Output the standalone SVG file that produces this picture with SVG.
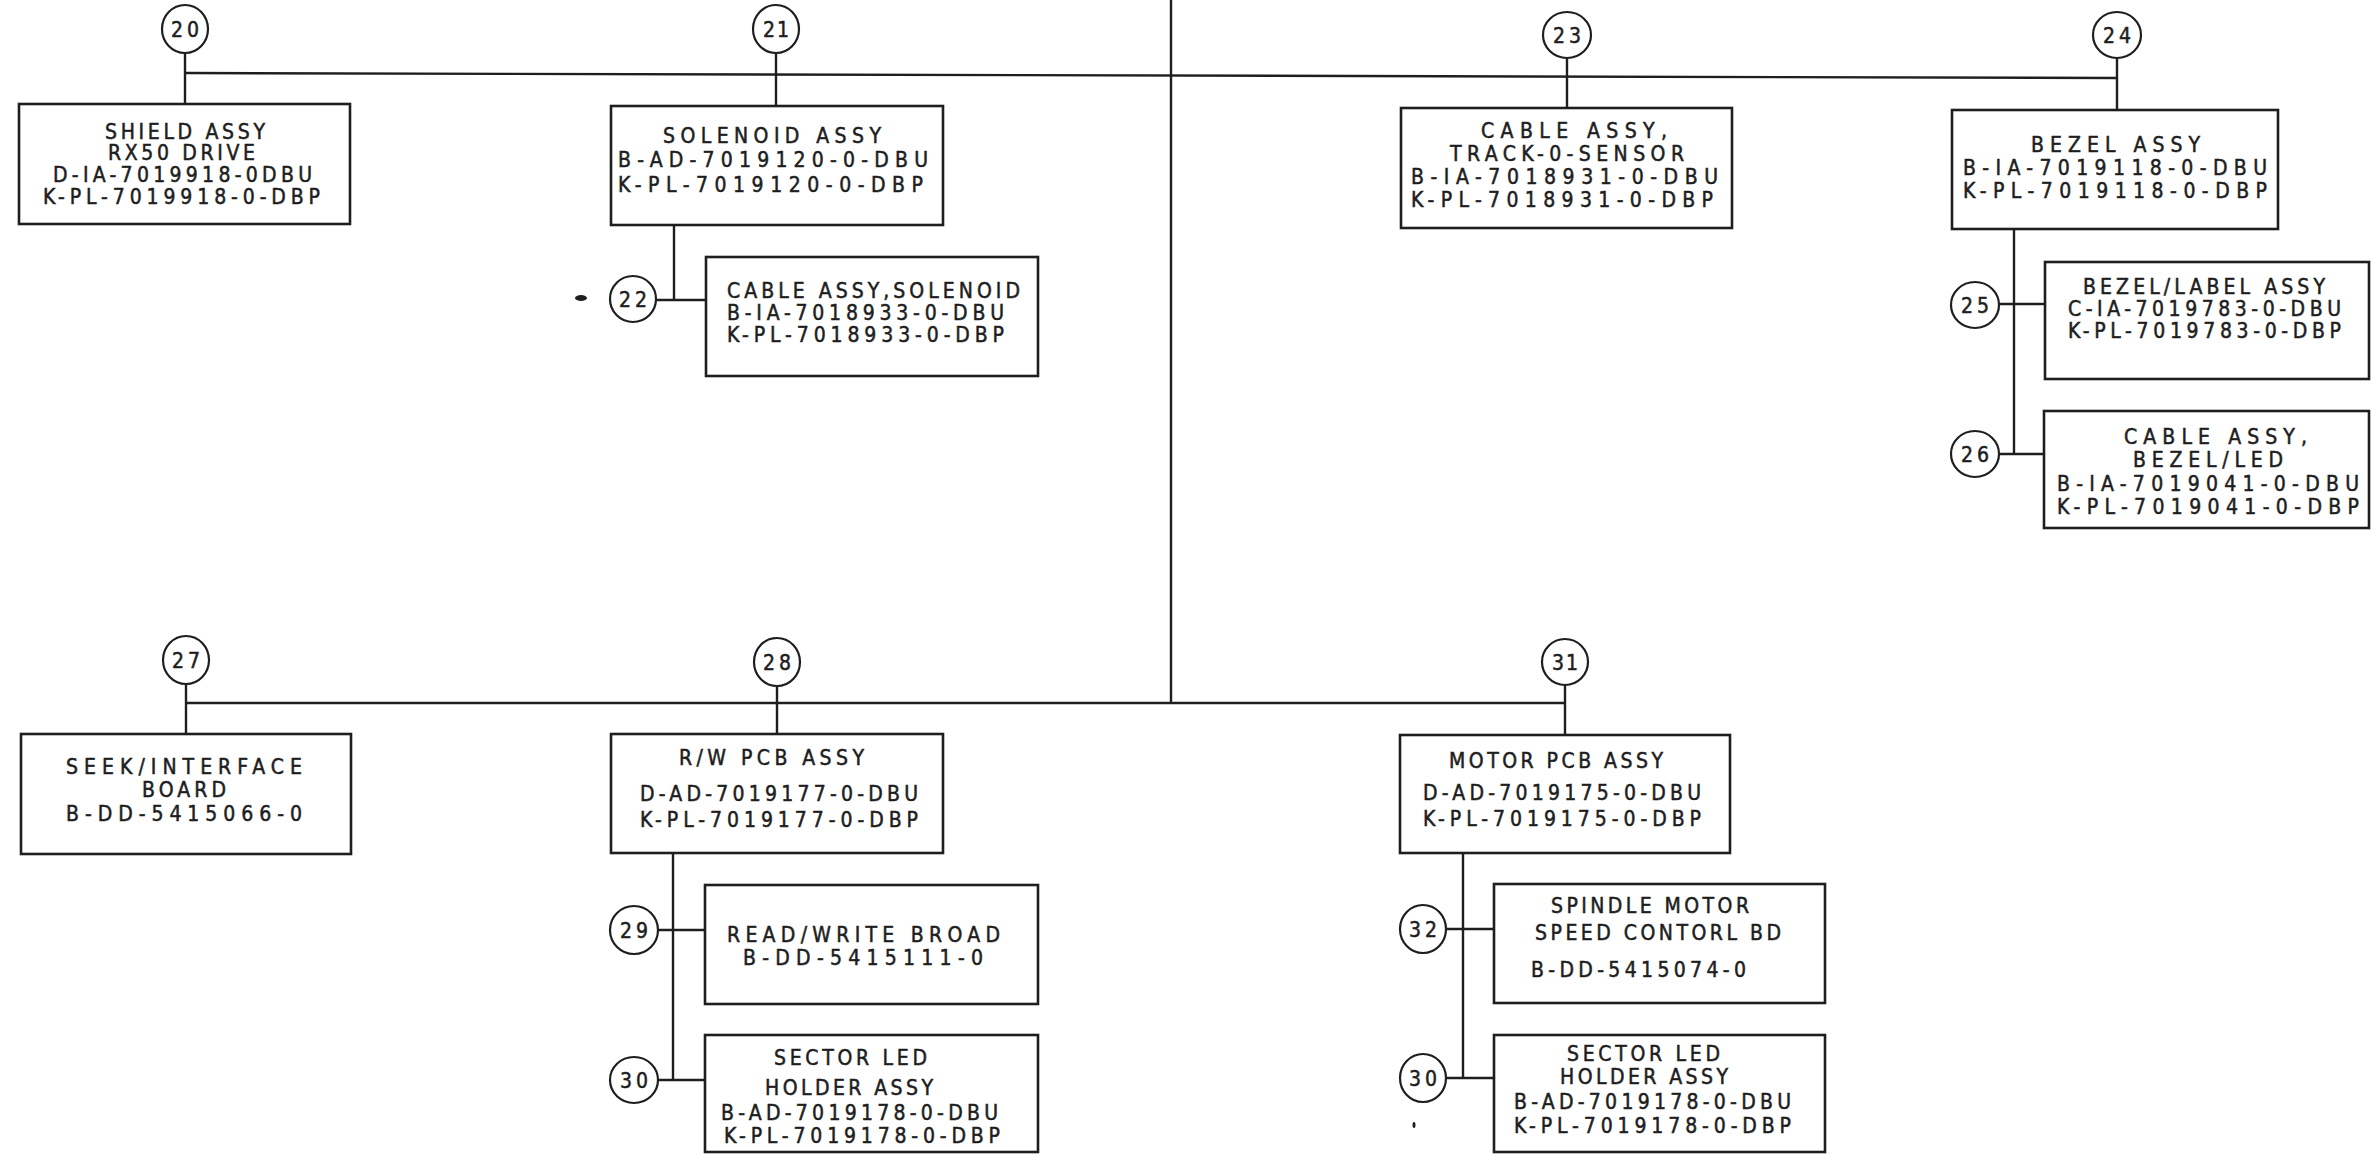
<svg xmlns="http://www.w3.org/2000/svg" width="2371" height="1154" viewBox="0 0 2371 1154">
<style>
.bg{fill:#ffffff}
.box{fill:none;stroke:#1e1e1e;stroke-width:2.6}
.bal{fill:none;stroke:#1e1e1e;stroke-width:2.2}
.ln{fill:none;stroke:#1e1e1e;stroke-width:2.4}
text{font-family:"Liberation Sans Narrow","DejaVu Sans Condensed","Liberation Sans",sans-serif;font-size:21px;fill:#1e1e1e;stroke:#1e1e1e;stroke-width:0.5}
.n{text-anchor:middle;font-size:21px}
.mk{fill:#1e1e1e}
</style>
<rect class="bg" x="0" y="0" width="2371" height="1154"/>

<g id="connectors">
  <line class="ln" x1="185" y1="73" x2="2117" y2="78"/>
  <line class="ln" x1="1171" y1="0" x2="1171" y2="703"/>
  <line class="ln" x1="186" y1="703" x2="1565" y2="703"/>
  <line class="ln" x1="185" y1="53" x2="185" y2="104"/>
  <line class="ln" x1="776" y1="53" x2="776" y2="106"/>
  <line class="ln" x1="1567" y1="58" x2="1567" y2="108"/>
  <line class="ln" x1="2117" y1="58" x2="2117" y2="110"/>
  <polyline class="ln" points="674,225 674,300"/>
  <line class="ln" x1="656" y1="300" x2="706" y2="300"/>
  <polyline class="ln" points="2014,229 2014,454"/>
  <line class="ln" x1="1999" y1="304" x2="2045" y2="304"/>
  <line class="ln" x1="1999" y1="454" x2="2044" y2="454"/>
  <line class="ln" x1="186" y1="684" x2="186" y2="734"/>
  <line class="ln" x1="777" y1="686" x2="777" y2="734"/>
  <line class="ln" x1="1565" y1="685" x2="1565" y2="735"/>
  <line class="ln" x1="673" y1="853" x2="673" y2="1080"/>
  <line class="ln" x1="658" y1="930" x2="705" y2="930"/>
  <line class="ln" x1="658" y1="1080" x2="705" y2="1080"/>
  <line class="ln" x1="1463" y1="853" x2="1463" y2="1078"/>
  <line class="ln" x1="1446" y1="929" x2="1494" y2="929"/>
  <line class="ln" x1="1446" y1="1078" x2="1494" y2="1078"/>
</g>

<g id="n20"><ellipse class="bal" cx="185" cy="29" rx="23" ry="24"/><text class="n" x="185" y="37" textLength="28" lengthAdjust="spacing">20</text></g>
<g id="n21"><ellipse class="bal" cx="776" cy="29" rx="23" ry="24"/><text class="n" x="776" y="37" textLength="26" lengthAdjust="spacing">21</text></g>
<g id="n22"><ellipse class="bal" cx="633" cy="299" rx="23" ry="23"/><text class="n" x="633" y="307" textLength="28" lengthAdjust="spacing">22</text></g>
<g id="n23"><ellipse class="bal" cx="1567" cy="35" rx="24" ry="23"/><text class="n" x="1567" y="43" textLength="28" lengthAdjust="spacing">23</text></g>
<g id="n24"><ellipse class="bal" cx="2117" cy="35" rx="24" ry="23"/><text class="n" x="2117" y="43" textLength="28" lengthAdjust="spacing">24</text></g>
<g id="n25"><ellipse class="bal" cx="1975" cy="305" rx="24" ry="23"/><text class="n" x="1975" y="313" textLength="28" lengthAdjust="spacing">25</text></g>
<g id="n26"><ellipse class="bal" cx="1975" cy="454" rx="24" ry="23"/><text class="n" x="1975" y="462" textLength="28" lengthAdjust="spacing">26</text></g>
<g id="n27"><ellipse class="bal" cx="186" cy="660" rx="23" ry="24"/><text class="n" x="186" y="668" textLength="28" lengthAdjust="spacing">27</text></g>
<g id="n28"><ellipse class="bal" cx="777" cy="662" rx="23" ry="24"/><text class="n" x="777" y="670" textLength="28" lengthAdjust="spacing">28</text></g>
<g id="n29"><ellipse class="bal" cx="634" cy="930" rx="24" ry="24"/><text class="n" x="634" y="938" textLength="28" lengthAdjust="spacing">29</text></g>
<g id="n30a"><ellipse class="bal" cx="634" cy="1080" rx="24" ry="23"/><text class="n" x="634" y="1088" textLength="28" lengthAdjust="spacing">30</text></g>
<g id="n31"><ellipse class="bal" cx="1565" cy="662" rx="23" ry="23"/><text class="n" x="1565" y="670" textLength="26" lengthAdjust="spacing">31</text></g>
<g id="n32"><ellipse class="bal" cx="1423" cy="929" rx="23" ry="24"/><text class="n" x="1423" y="937" textLength="28" lengthAdjust="spacing">32</text></g>
<g id="n30b"><ellipse class="bal" cx="1423" cy="1078" rx="23" ry="24"/><text class="n" x="1423" y="1086" textLength="28" lengthAdjust="spacing">30</text></g>

<g id="shield">
  <rect class="box" x="19" y="104" width="331" height="120"/>
  <text x="105" y="139" textLength="160" lengthAdjust="spacing">SHIELD ASSY</text>
  <text x="108" y="160" textLength="147" lengthAdjust="spacing">RX50 DRIVE</text>
  <text x="53" y="182" textLength="259" lengthAdjust="spacing">D-IA-7019918-0DBU</text>
  <text x="43" y="204" textLength="277" lengthAdjust="spacing">K-PL-7019918-0-DBP</text>
</g>
<g id="solenoid">
  <rect class="box" x="611" y="106" width="332" height="119"/>
  <text x="663" y="143" textLength="218" lengthAdjust="spacing">SOLENOID ASSY</text>
  <text x="618" y="167" textLength="310" lengthAdjust="spacing">B-AD-7019120-0-DBU</text>
  <text x="618" y="192" textLength="305" lengthAdjust="spacing">K-PL-7019120-0-DBP</text>
</g>
<g id="cable-solenoid">
  <rect class="box" x="706" y="257" width="332" height="119"/>
  <text x="727" y="298" textLength="293" lengthAdjust="spacing">CABLE ASSY,SOLENOID</text>
  <text x="727" y="320" textLength="277" lengthAdjust="spacing">B-IA-7018933-0-DBU</text>
  <text x="727" y="342" textLength="277" lengthAdjust="spacing">K-PL-7018933-0-DBP</text>
  <ellipse class="mk" cx="581" cy="298" rx="6" ry="3"/>
</g>
<g id="cable-track">
  <rect class="box" x="1401" y="108" width="331" height="120"/>
  <text x="1481" y="138" textLength="186" lengthAdjust="spacing">CABLE ASSY,</text>
  <text x="1450" y="161" textLength="234" lengthAdjust="spacing">TRACK-0-SENSOR</text>
  <text x="1411" y="184" textLength="307" lengthAdjust="spacing">B-IA-7018931-0-DBU</text>
  <text x="1411" y="207" textLength="302" lengthAdjust="spacing">K-PL-7018931-0-DBP</text>
</g>
<g id="bezel">
  <rect class="box" x="1952" y="110" width="326" height="119"/>
  <text x="2031" y="152" textLength="169" lengthAdjust="spacing">BEZEL ASSY</text>
  <text x="1963" y="175" textLength="304" lengthAdjust="spacing">B-IA-7019118-0-DBU</text>
  <text x="1963" y="198" textLength="304" lengthAdjust="spacing">K-PL-7019118-0-DBP</text>
</g>
<g id="bezel-label">
  <rect class="box" x="2045" y="262" width="324" height="117"/>
  <text x="2083" y="294" textLength="242" lengthAdjust="spacing">BEZEL/LABEL ASSY</text>
  <text x="2068" y="316" textLength="273" lengthAdjust="spacing">C-IA-7019783-0-DBU</text>
  <text x="2068" y="338" textLength="273" lengthAdjust="spacing">K-PL-7019783-0-DBP</text>
</g>
<g id="cable-bezel-led">
  <rect class="box" x="2044" y="411" width="325" height="117"/>
  <text x="2124" y="444" textLength="183" lengthAdjust="spacing">CABLE ASSY,</text>
  <text x="2133" y="467" textLength="150" lengthAdjust="spacing">BEZEL/LED</text>
  <text x="2057" y="491" textLength="302" lengthAdjust="spacing">B-IA-7019041-0-DBU</text>
  <text x="2057" y="514" textLength="302" lengthAdjust="spacing">K-PL-7019041-0-DBP</text>
</g>
<g id="seek">
  <rect class="box" x="21" y="734" width="330" height="120"/>
  <text x="66" y="774" textLength="236" lengthAdjust="spacing">SEEK/INTERFACE</text>
  <text x="142" y="797" textLength="84" lengthAdjust="spacing">BOARD</text>
  <text x="66" y="821" textLength="236" lengthAdjust="spacing">B-DD-5415066-0</text>
</g>
<g id="rw-pcb">
  <rect class="box" x="611" y="734" width="332" height="119"/>
  <text x="679" y="765" textLength="185" lengthAdjust="spacing">R/W PCB ASSY</text>
  <text x="640" y="801" textLength="278" lengthAdjust="spacing">D-AD-7019177-0-DBU</text>
  <text x="640" y="827" textLength="278" lengthAdjust="spacing">K-PL-7019177-0-DBP</text>
</g>
<g id="read-write">
  <rect class="box" x="705" y="885" width="333" height="119"/>
  <text x="727" y="942" textLength="273" lengthAdjust="spacing">READ/WRITE BROAD</text>
  <text x="743" y="965" textLength="240" lengthAdjust="spacing">B-DD-5415111-0</text>
</g>
<g id="sector-led-a">
  <rect class="box" x="705" y="1035" width="333" height="117"/>
  <text x="774" y="1065" textLength="153" lengthAdjust="spacing">SECTOR LED</text>
  <text x="765" y="1095" textLength="168" lengthAdjust="spacing">HOLDER ASSY</text>
  <text x="721" y="1120" textLength="277" lengthAdjust="spacing">B-AD-7019178-0-DBU</text>
  <text x="724" y="1143" textLength="276" lengthAdjust="spacing">K-PL-7019178-0-DBP</text>
</g>
<g id="motor-pcb">
  <rect class="box" x="1400" y="735" width="330" height="118"/>
  <text x="1449" y="768" textLength="214" lengthAdjust="spacing">MOTOR PCB ASSY</text>
  <text x="1423" y="800" textLength="278" lengthAdjust="spacing">D-AD-7019175-0-DBU</text>
  <text x="1423" y="826" textLength="278" lengthAdjust="spacing">K-PL-7019175-0-DBP</text>
</g>
<g id="spindle">
  <rect class="box" x="1494" y="884" width="331" height="119"/>
  <text x="1551" y="913" textLength="198" lengthAdjust="spacing">SPINDLE MOTOR</text>
  <text x="1535" y="940" textLength="246" lengthAdjust="spacing">SPEED CONTORL BD</text>
  <text x="1531" y="977" textLength="215" lengthAdjust="spacing">B-DD-5415074-0</text>
</g>
<g id="sector-led-b">
  <rect class="box" x="1494" y="1035" width="331" height="117"/>
  <text x="1567" y="1061" textLength="153" lengthAdjust="spacing">SECTOR LED</text>
  <text x="1560" y="1084" textLength="168" lengthAdjust="spacing">HOLDER ASSY</text>
  <text x="1514" y="1109" textLength="277" lengthAdjust="spacing">B-AD-7019178-0-DBU</text>
  <text x="1514" y="1133" textLength="277" lengthAdjust="spacing">K-PL-7019178-0-DBP</text>
  <ellipse class="mk" cx="1414" cy="1125" rx="1.5" ry="3"/>
</g>
</svg>
